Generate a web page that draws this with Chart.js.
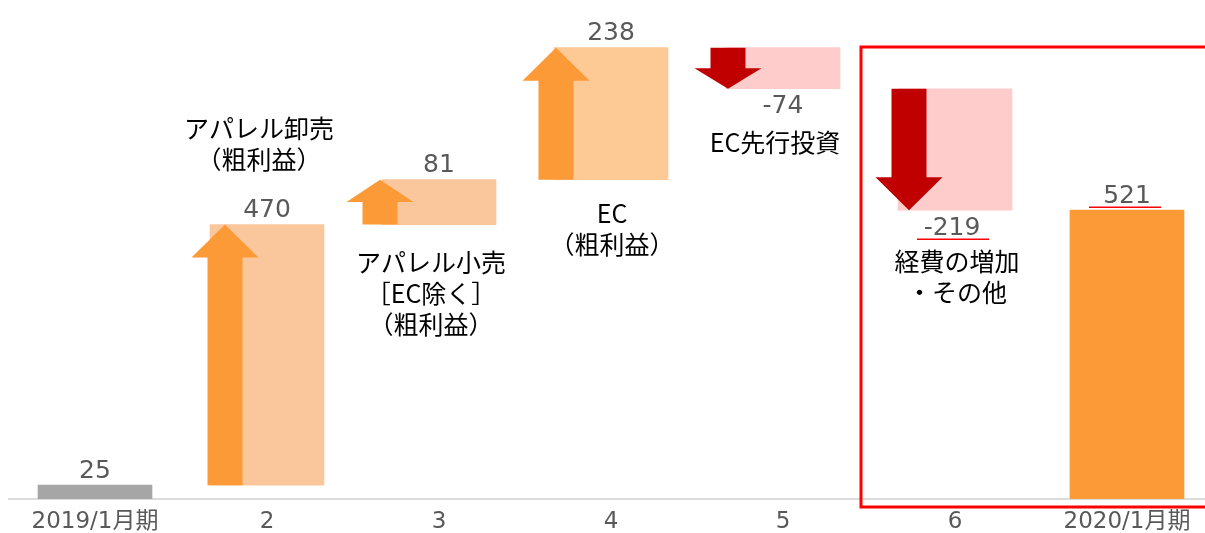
<!DOCTYPE html>
<html>
<head>
<meta charset="utf-8">
<script src="https://cdn.jsdelivr.net/npm/chart.js@4.4.1/dist/chart.umd.min.js"></script>
<style>
  html, body { margin: 0; padding: 0; background: #fff; overflow: hidden; }
  #wrap { width: 1213px; height: 533px; position: relative; }
</style>
</head>
<body>
<div id="wrap"><canvas id="myChart"></canvas></div>
<script>
// data
const categories = ['2019/1月期', '2', '3', '4', '5', '6', '2020/1月期'];
const changes = [25, 470, 81, 238, -74, -219, 521];
const isTotal = [true, false, false, false, false, false, true];
const valueLabels = ['25', '470', '81', '238', '-74', '-219', '521'];
const notes = [
  [],
  ['アパレル卸売', '（粗利益）'],
  ['アパレル小売', '［EC除く］', '（粗利益）'],
  ['EC', '（粗利益）'],
  ['EC先行投資'],
  ['経費の増加', '・その他'],
  []
];

// looks
const FONT = '"Noto Sans CJK JP", "Noto Sans", sans-serif';
const NUMFONT = '"DejaVu Sans", "Noto Sans CJK JP", sans-serif';
const barColors = ['#a6a6a6', '#fac69c', '#fac69c', '#fdc995', '#ffcccc', '#ffcccc', '#fd9a38'];
const upColor = '#fd9a38';
const downColor = '#c00000';
const arrowShift = [0, 15, -2, 2, 2, 11, 0]; // arrow centre from bar's left edge
const underlined = [false, false, false, false, false, true, true];
// note placement: dx from bar centre, dy from bar top (above) or bottom (below)
const notePlace = [null, {dx: -8, from: 'top', dy: -96}, {dx: -8, from: 'bottom', dy: 38},
  {dx: 1, from: 'bottom', dy: 34}, {dx: -8, from: 'bottom', dy: 54}, {dx: 2, from: 'bottom', dy: 51}, null];

// turn the changes into floating [from, to] ranges
let running = 0;
const ranges = changes.map((v, i) => {
  if (isTotal[i]) { running = v; return [0, v]; }
  const from = running;
  running += v;
  return [from, running];
});

function drawArrow(ctx, cx, from, to, color) {
  const dir = to < from ? -1 : 1;
  const len = Math.abs(to - from);
  const head = Math.min(33, len * 0.5);
  const neck = to - dir * head;
  const shaft = 17.5, wing = 33.5;
  ctx.beginPath();
  ctx.moveTo(cx - shaft, from);
  ctx.lineTo(cx - shaft, neck);
  ctx.lineTo(cx - wing, neck);
  ctx.lineTo(cx, to);
  ctx.lineTo(cx + wing, neck);
  ctx.lineTo(cx + shaft, neck);
  ctx.lineTo(cx + shaft, from);
  ctx.closePath();
  ctx.fillStyle = color;
  ctx.fill();
}

const waterfallExtras = {
  id: 'waterfallExtras',
  afterDatasetsDraw(chart) {
    const {ctx, chartArea, scales: {x, y}} = chart;
    const bars = chart.getDatasetMeta(0).data;
    ctx.save();

    // arrows on the change bars
    changes.forEach((v, i) => {
      if (isTotal[i]) return;
      const left = bars[i].x - bars[i].width / 2;
      drawArrow(ctx, left + arrowShift[i], y.getPixelForValue(ranges[i][0]),
        y.getPixelForValue(ranges[i][1]), v > 0 ? upColor : downColor);
    });

    // value labels
    ctx.textAlign = 'center';
    ctx.textBaseline = 'middle';
    ctx.font = '25px ' + NUMFONT;
    changes.forEach((v, i) => {
      const top = y.getPixelForValue(Math.max(...ranges[i]));
      const bottom = y.getPixelForValue(Math.min(...ranges[i]));
      const ly = v >= 0 ? top - 14 : bottom + 18;
      ctx.fillStyle = '#595959';
      ctx.fillText(valueLabels[i], bars[i].x - (i === 5 ? 3 : 0), ly);
      if (underlined[i]) {
        ctx.strokeStyle = '#ff0000';
        ctx.lineWidth = 1.5;
        ctx.beginPath();
        ctx.moveTo(bars[i].x - 38, ly + 11);
        ctx.lineTo(bars[i].x + 34, ly + 11);
        ctx.stroke();
      }
    });

    // descriptive notes
    ctx.font = '25px ' + FONT;
    ctx.fillStyle = '#000';
    notes.forEach((lines, i) => {
      const p = notePlace[i];
      if (!p) return;
      const top = y.getPixelForValue(Math.max(...ranges[i]));
      const bottom = y.getPixelForValue(Math.min(...ranges[i]));
      const y0 = (p.from === 'top' ? top : bottom) + p.dy;
      lines.forEach((t, k) => ctx.fillText(t, bars[i].x + p.dx, y0 + k * 31));
    });

    // red frame around the last two periods
    const fl = x.getPixelForValue(5) - 94;
    ctx.strokeStyle = '#ff0000';
    ctx.lineWidth = 3;
    ctx.strokeRect(fl, chartArea.top + 47, chart.width - fl + 20, chartArea.bottom - chartArea.top - 39);
    ctx.restore();
  }
};

new Chart(document.getElementById('myChart'), {
  type: 'bar',
  data: {
    labels: categories,
    datasets: [{
      data: ranges,
      backgroundColor: barColors,
      borderWidth: 0,
      borderSkipped: false,
      barThickness: 114
    }]
  },
  options: {
    responsive: true,
    maintainAspectRatio: false,
    animation: false,
    layout: { padding: { left: 9, right: 0, top: 0, bottom: 0 } },
    plugins: { legend: { display: false }, tooltip: { enabled: false } },
    scales: {
      x: {
        grid: { display: false, drawTicks: false },
        border: { display: true, color: '#dcdcdc', width: 2 },
        ticks: { color: '#595959', font: { family: NUMFONT, size: 23 }, padding: 9, maxRotation: 0, autoSkip: false },
        afterFit(scale) { scale.height = 34; }
      },
      y: { display: false, min: 0, max: 900 }
    }
  },
  plugins: [waterfallExtras]
});
</script>
</body>
</html>
